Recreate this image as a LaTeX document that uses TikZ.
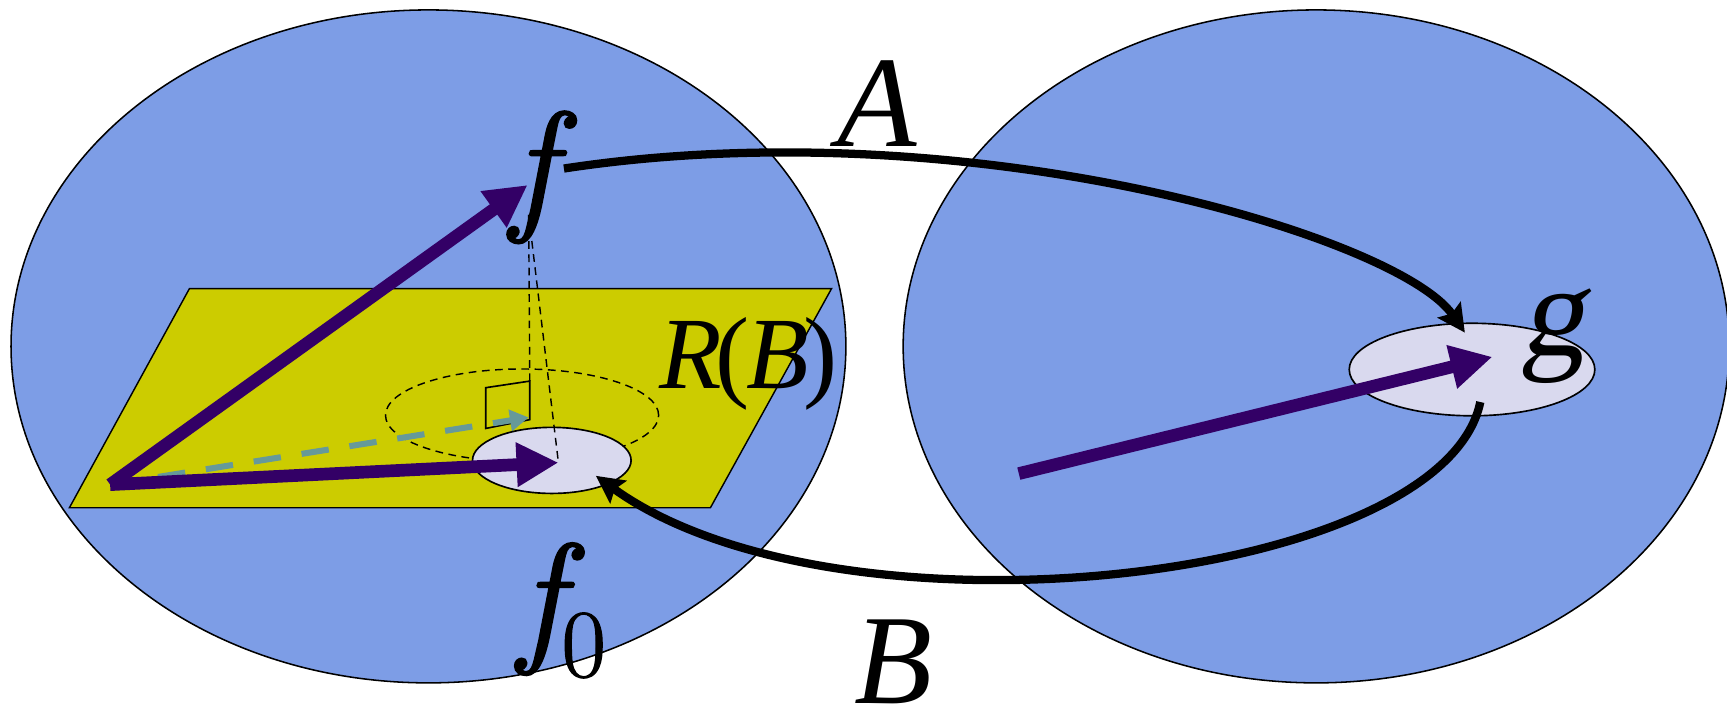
\documentclass[tikz,border=0pt]{standalone}
\usepackage{fontspec}
\setmainfont{Liberation Serif}
\newfontfamily\slantserif[FakeSlant=0.18]{Liberation Serif}
\newfontfamily\lmroman[FakeBold=1.6]{Latin Modern Roman}
\newfontfamily\lmdigit[FakeBold=1.2]{Latin Modern Roman}
\usetikzlibrary{arrows.meta,shapes.geometric}
\definecolor{setblue}{RGB}{125,157,230}
\definecolor{plane}{RGB}{204,204,0}
\definecolor{spot}{RGB}{217,217,238}
\definecolor{vec}{RGB}{51,0,102}
\definecolor{proj}{RGB}{102,153,153}
\begin{document}
\begin{tikzpicture}[x=1pt,y=-1pt,
 setell/.style={ellipse, draw=black, line width=1.4pt, fill=setblue, inner sep=0pt},
 spotell/.style={ellipse, draw=black, line width=1.5pt, fill=spot, inner sep=0pt},
 vecarrow/.style={draw=vec, line width=11.5pt, -{Triangle[length=38pt,width=38pt]}},
 maparrow/.style={draw=black, line width=7.5pt, -{Stealth[length=25pt,width=25pt,inset=4pt]}},
 thindash/.style={draw=black, line width=1.3pt, dash pattern=on 7pt off 5pt},
 lbl/.style={inner sep=0pt, font=\fontsize{118}{118}\selectfont\itshape},
 flbl/.style={inner sep=0pt, font=\fontsize{132}{132}\selectfont\lmroman\itshape},
]
\useasboundingbox (0,0) rectangle (1568,649);
% the two sets
\node[setell, minimum width=758pt, minimum height=611pt] (L) at (389,314.5) {};
\node[setell, minimum width=750pt, minimum height=611pt] (Rt) at (1195,314.5) {};
% plane R(B)
\coordinate (p1) at (172,262);
\coordinate (p2) at (755,262);
\coordinate (p3) at (645,461);
\coordinate (p4) at (63,461);
\draw[fill=plane, line width=1.3pt] (p1) -- (p2) -- (p3) -- (p4) -- cycle;
% dashed ellipse
\node[ellipse, thindash, minimum width=248pt, minimum height=84pt, inner sep=0pt] (D) at (474,377) {};
% right-angle mark
\coordinate (q1) at (441,352);
\coordinate (q2) at (481,346);
\coordinate (q3) at (481,381);
\coordinate (q4) at (441,389);
\draw[line width=1.5pt] (q1) -- (q2) -- (q3) -- (q4) -- cycle;
% projection arrow
\coordinate (o) at (100,440);
\coordinate (t) at (480,379);
\draw[draw=proj, line width=5.5pt, dash pattern=on 25pt off 19pt, -{Triangle[length=17pt,width=19pt]}] (o) -- (t);
% f0 region
\node[spotell, minimum width=144pt, minimum height=60pt] (f0e) at (501,418) {};
% g region
\node[spotell, minimum width=223pt, minimum height=84pt] (ge) at (1336.5,335.5) {};
% dashed drop lines
\coordinate (ftip) at (480,195);
\coordinate (c0) at (507,420);
\draw[thindash] (ftip) -- (q2);
\draw[thindash] (ftip) -- (c0);
% vectors
\coordinate (fv) at (479,168);
\coordinate (s3) at (925,430);
\coordinate (gv) at (1355,324);
\draw[vecarrow] (o) -- (fv);
\draw[vecarrow] (o) -- (c0);
\draw[vecarrow] (s3) -- (gv);
% labels
\node[flbl] (fl) at (484,161) {f};
\node[inner sep=0pt, font=\fontsize{118}{118}\selectfont\slantserif] (gl) at (1410,305) {g};
\node[lbl] (Al) at (796,94) {A};
\node[lbl, font=\fontsize{116}{116}\selectfont\itshape] (Bl) at (811,601) {B};
\node[inner sep=0pt, font=\fontsize{93}{93}\selectfont\itshape] (RB) at (680,330) {R\kern-6pt{\upshape(}\kern-3pt B\kern-5pt{\upshape)}};
\node[flbl] (f0l) at (491,553) {f};
\node[inner sep=0pt, font=\fontsize{88}{88}\selectfont\lmdigit] (f0s) at (530,586) {0};
% maps A and B
\coordinate (a0) at (512,153);
\coordinate (a1) at (1330,302);
\draw[maparrow] (a0) .. controls (880,97) and (1270,215) .. (a1);
\coordinate (b0) at (1344,365);
\coordinate (b1) at (541,432);
\draw[maparrow] (b0) .. controls (1310,530) and (760,590) .. (b1);
\end{tikzpicture}
\end{document}
